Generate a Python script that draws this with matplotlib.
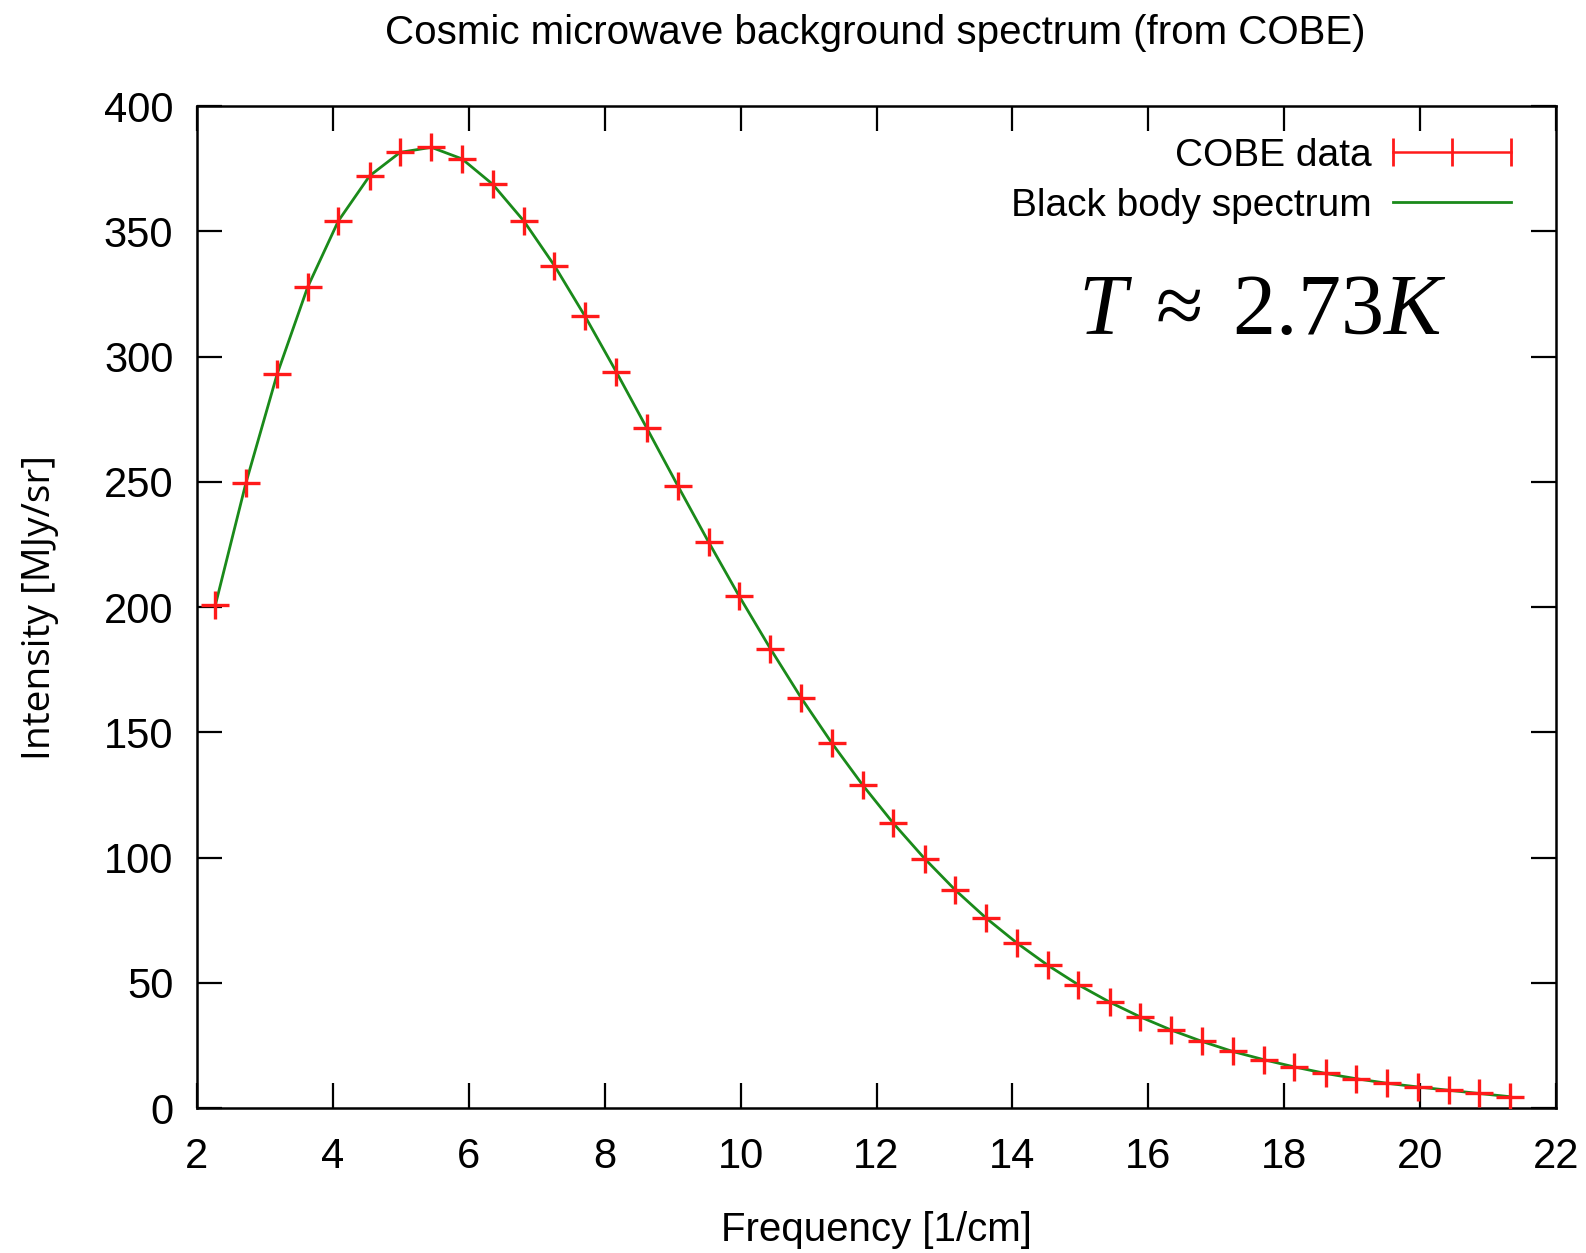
import numpy as np
import matplotlib.pyplot as plt
from matplotlib.lines import Line2D

# COBE FIRAS monopole spectrum
freq = [2.27, 2.72, 3.18, 3.63, 4.08, 4.54, 4.99, 5.45, 5.90, 6.35, 6.81,
        7.26, 7.71, 8.17, 8.62, 9.08, 9.53, 9.98, 10.44, 10.89, 11.34, 11.80,
        12.25, 12.71, 13.16, 13.61, 14.07, 14.52, 14.97, 15.43, 15.88, 16.34,
        16.79, 17.24, 17.70, 18.15, 18.61, 19.06, 19.51, 19.97, 20.42, 20.87,
        21.33]
intensity = [200.7, 249.5, 293.0, 327.8, 354.1, 372.1, 381.5, 383.5, 378.9,
             368.8, 354.1, 336.3, 316.1, 293.9, 271.4, 248.2, 225.9, 204.3,
             183.3, 163.8, 145.8, 128.8, 113.6, 99.5, 87.0, 75.9, 65.8, 57.0,
             49.2, 42.3, 36.4, 31.1, 26.6, 22.6, 19.3, 16.4, 13.8, 11.7, 9.9,
             8.4, 7.1, 5.8, 4.5]

# black body curve readings (follows the data points)
bb_freq = freq
bb_int = intensity

xticks = [2, 4, 6, 8, 10, 12, 14, 16, 18, 20, 22]
yticks = [0, 50, 100, 150, 200, 250, 300, 350, 400]

plt.rcParams['font.family'] = ['Liberation Sans', 'DejaVu Sans']
plt.rcParams['mathtext.fontset'] = 'custom'
plt.rcParams['mathtext.rm'] = 'Liberation Serif'
plt.rcParams['mathtext.it'] = 'Liberation Serif:italic'

fig = plt.figure(figsize=(15.86, 12.53), dpi=100)
ax = fig.add_axes([0.1242, 0.1157, 0.8569, 0.7997])

ax.plot(bb_freq, bb_int, color='#1a8a1a', lw=2.0, zorder=2)
ax.plot(freq, intensity, ls='none', marker='+', ms=20, mew=2.4,
        color='#ff1a1a', zorder=3)

ax.set_xlim(2, 22)
ax.set_ylim(0, 400)
ax.set_xticks(xticks)
ax.set_yticks(yticks)
ax.tick_params(direction='in', length=18, width=1.6, labelsize=30,
               top=True, right=True)
ax.tick_params(axis='x', pad=21)
ax.tick_params(axis='y', pad=17)
for s in ax.spines.values():
    s.set_linewidth(1.8)

ax.set_xlabel('Frequency [1/cm]', fontsize=29, labelpad=24)
ax.set_ylabel('Intensity [MJy/sr]', fontsize=28, labelpad=32,
              family=['Open Sans', 'DejaVu Sans'])
fig.text(0.552, 0.974, 'Cosmic microwave background spectrum (from COBE)',
         ha='center', va='center', fontsize=29)

h1 = Line2D([], [], color='#ff1a1a', lw=1.8, marker='|', ms=20, mew=2.0)
h2 = Line2D([], [], color='#1a8a1a', lw=2.0)
ax.legend([h1, h2], ['COBE data', 'Black body spectrum'], loc='upper right',
          bbox_to_anchor=(0.9757, 0.968), frameon=False, markerfirst=False,
          numpoints=3, handlelength=3.63, fontsize=28, labelspacing=0.35,
          handletextpad=0.25, borderpad=0, borderaxespad=0)

ax.text(0.784, 0.794, r'$T\;\approx\;2.73K$', transform=ax.transAxes,
        ha='center', va='center', fontsize=62)

fig.savefig('out.png')
